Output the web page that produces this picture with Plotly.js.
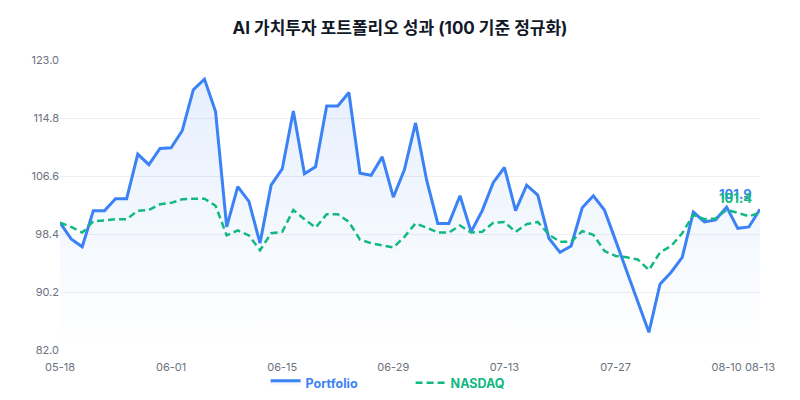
<!DOCTYPE html>
<html>
<head>
<meta charset="utf-8">
<script src="https://cdn.plot.ly/plotly-3.0.1.min.js"></script>
<style>
  html, body { margin: 0; padding: 0; background: #ffffff; }
  #chart { width: 800px; height: 400px; }
</style>
</head>
<body>
<div id="chart"></div>
<script>
// trading days, 05-18 .. 08-13
const dates = [
  '05-18', '05-19', '05-20', '05-21', '05-22', '05-25', '05-26', '05-27', '05-28', '05-29',
  '06-01', '06-02', '06-03', '06-04', '06-05', '06-08', '06-09', '06-10', '06-11', '06-12',
  '06-15', '06-16', '06-17', '06-18', '06-19', '06-22', '06-23', '06-24', '06-25', '06-26',
  '06-29', '06-30', '07-01', '07-02', '07-03', '07-06', '07-07', '07-08', '07-09', '07-10',
  '07-13', '07-14', '07-15', '07-16', '07-17', '07-20', '07-21', '07-22', '07-23', '07-24',
  '07-27', '07-28', '07-29', '07-30', '07-31', '08-03', '08-04', '08-05', '08-06', '08-07',
  '08-10', '08-11', '08-12', '08-13',
];

const portfolio = [
  100.0, 97.7, 96.6, 101.7, 101.7, 103.4, 103.4, 109.7, 108.2, 110.5,
  110.6, 113.0, 118.8, 120.3, 115.7, 99.4, 105.1, 103.0, 97.1, 105.3,
  107.6, 115.8, 106.9, 107.9, 116.5, 116.5, 118.4, 107.0, 106.7, 109.3,
  103.6, 107.5, 114.1, 106.0, 99.9, 99.9, 103.8, 98.7, 101.7, 105.7,
  107.8, 101.7, 105.3, 103.9, 97.8, 95.8, 96.7, 102.1, 103.8, 101.8,
  97.5, 93.2, 88.9, 84.5, 91.3, 93.0, 95.1, 101.5, 100.1, 100.4,
  102.2, 99.2, 99.4, 101.9,
];

const nasdaq = [
  100.0, 99.4, 98.6, 100.2, 100.3, 100.5, 100.5, 101.7, 101.8, 102.6,
  102.8, 103.3, 103.4, 103.4, 102.4, 98.2, 98.9, 98.2, 96.1, 98.5,
  98.7, 101.8, 100.5, 99.3, 101.2, 101.2, 100.1, 97.6, 97.1, 96.8,
  96.5, 98.0, 99.9, 99.3, 98.6, 98.6, 99.6, 98.6, 98.7, 100.0,
  100.1, 98.7, 99.8, 100.1, 98.3, 97.3, 97.3, 98.8, 98.3, 96.0,
  95.3, 95.1, 94.8, 93.3, 95.8, 96.7, 98.5, 101.1, 100.5, 100.6,
  101.8, 101.4, 100.9, 101.4,
];

const xTicks = ['05-18', '06-01', '06-15', '06-29', '07-13', '07-27', '08-10', '08-13'];
const yTicks = [82.0, 90.2, 98.4, 106.6, 114.8, 123.0];

const BLUE = '#3b82f6';
const GREEN = '#10b981';
const FONT = 'Inter, "Noto Sans CJK KR", "Noto Sans", sans-serif';

const last = dates.length - 1;

const traces = [
  {
    x: dates,
    y: portfolio,
    type: 'scatter',
    mode: 'lines',
    name: '<b><span style="color:' + BLUE + '">Portfolio</span></b>',
    line: { color: BLUE, width: 3 },
    fill: 'tozeroy',
    fillgradient: {
      type: 'vertical',
      start: 82,
      stop: 121,
      colorscale: [[0, 'rgba(59,130,246,0.0)'], [1, 'rgba(59,130,246,0.13)']],
    },
  },
  {
    x: dates,
    y: nasdaq,
    type: 'scatter',
    mode: 'lines',
    name: '<b><span style="color:' + GREEN + '">NASDAQ</span></b>',
    line: { color: GREEN, width: 2.5, dash: '7px,4px' },
  },
];

// end-of-series value labels
const endLabel = (value, color) => ({
  x: dates[last],
  y: value,
  xref: 'x',
  yref: 'y',
  text: '<b>' + value.toFixed(1) + '</b>',
  showarrow: false,
  xanchor: 'right',
  yanchor: 'middle',
  xshift: -6,
  yshift: 15,
  font: { family: FONT, size: 13, color: color },
});

const layout = {
  width: 800,
  height: 400,
  margin: { l: 60, r: 40, t: 60, b: 50, autoexpand: false },
  paper_bgcolor: '#ffffff',
  plot_bgcolor: '#ffffff',
  font: { family: FONT, size: 11, color: '#6b7280' },
  title: {
    text: '<b>AI 가치투자 포트폴리오 성과 (100 기준 정규화)</b>',
    x: 0.5,
    xanchor: 'center',
    y: 0.93,
    yanchor: 'middle',
    font: { family: FONT, size: 17, color: '#111827' },
  },
  xaxis: {
    type: 'category',
    range: [0, last],
    tickmode: 'array',
    tickvals: xTicks,
    ticktext: xTicks,
    showgrid: false,
    zeroline: false,
    showline: false,
    ticks: '',
    ticklabelstandoff: 9,
  },
  yaxis: {
    range: [82, 123],
    tickmode: 'array',
    tickvals: yTicks,
    tickformat: '.1f',
    gridcolor: '#efeff1',
    gridwidth: 1,
    zeroline: false,
    showline: false,
    ticks: '',
  },
  legend: {
    orientation: 'h',
    x: 0.332,
    xanchor: 'left',
    xref: 'container',
    y: 0.0425,
    yanchor: 'middle',
    yref: 'container',
    entrywidth: 100,
    bgcolor: 'rgba(0,0,0,0)',
    font: { family: FONT, size: 12.5 },
  },
  annotations: [
    endLabel(portfolio[last], BLUE),
    endLabel(nasdaq[last], GREEN),
  ],
  showlegend: true,
};

Plotly.newPlot('chart', traces, layout, { displayModeBar: false, staticPlot: true });
</script>
</body>
</html>
